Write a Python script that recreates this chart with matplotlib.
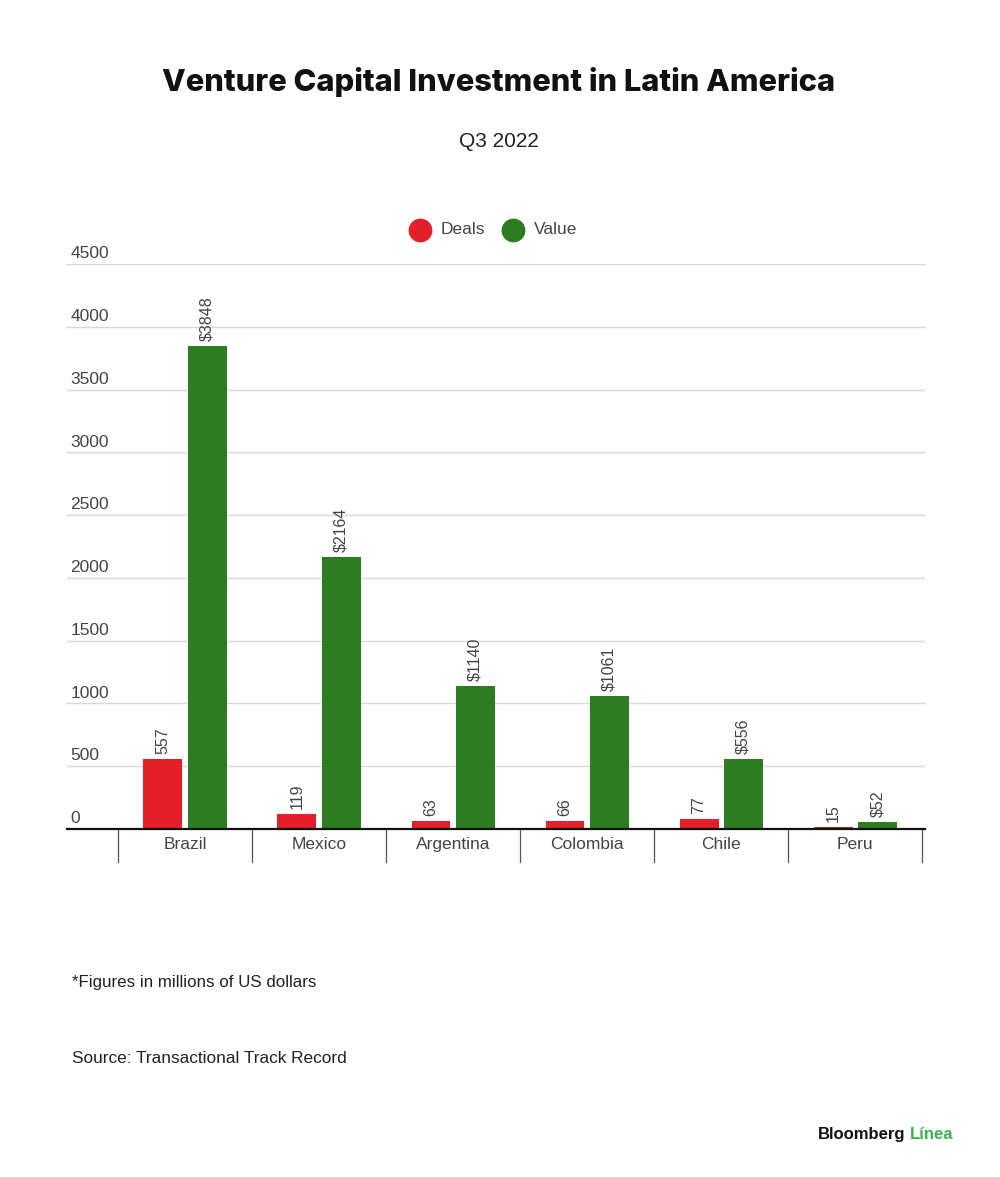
import numpy as np
import matplotlib.pyplot as plt

# data
countries = ['Brazil', 'Mexico', 'Argentina', 'Colombia', 'Chile', 'Peru']
deals = [557, 119, 63, 66, 77, 15]
values = [3848, 2164, 1140, 1061, 556, 52]
yticks = [0, 500, 1000, 1500, 2000, 2500, 3000, 3500, 4000, 4500]

red = '#e3202a'
green = '#2e7b22'
grey = '#444444'

plt.rcParams['font.family'] = ['Liberation Sans', 'DejaVu Sans']

fig = plt.figure(figsize=(10, 11.77), dpi=100)
ax = fig.add_axes([0.067, 0.2957, 0.858, 0.48])

x = np.arange(len(countries))
w = 0.29
off = 0.165
ax.bar(x - off, deals, w, color=red, zorder=3)
ax.bar(x + off, values, w, color=green, zorder=3)

for xi, d, v in zip(x, deals, values):
    ax.text(xi - off, d + 40, str(d), rotation=90, ha='center', va='bottom',
            fontsize=11.5, color=grey)
    ax.text(xi + off, v + 40, '$' + str(v), rotation=90, ha='center', va='bottom',
            fontsize=11.5, color=grey)

ax.set_xlim(-0.88, 5.52)
ax.set_ylim(0, 4500)
ax.set_yticks(yticks)
ax.yaxis.grid(True, color='#d9d9d9', linewidth=1, zorder=0)
ax.tick_params(left=False, bottom=False, labelleft=False, labelbottom=False)
for s in ['top', 'right', 'left']:
    ax.spines[s].set_visible(False)
ax.spines['bottom'].set_linewidth(1.6)
ax.spines['bottom'].set_color('#111111')
ax.spines['bottom'].set_zorder(4)

# y labels sit above the gridlines
for t in yticks:
    ax.text(0.004, t + 22, str(t), transform=ax.get_yaxis_transform(),
            ha='left', va='bottom', fontsize=12.5, color=grey)

# category separators and labels below the axis
for b in np.arange(len(countries) + 1) - 0.5:
    ax.plot([b, b], [0, -260], color='#555555', linewidth=0.9, clip_on=False)
for xi, c in zip(x, countries):
    ax.text(xi, -125, c, ha='center', va='center', fontsize=12.5, color=grey)

# legend
ax.scatter([], [], s=260, color=red, label='Deals')
ax.scatter([], [], s=260, color=green, label='Value')
fig.legend(loc='center', bbox_to_anchor=(0.49, 0.805), ncol=2, frameon=False,
           fontsize=12.5, handletextpad=0.2, columnspacing=0.6, labelcolor=grey)

fig.text(0.499, 0.93, 'Venture Capital Investment in Latin America', ha='center', va='center',
         fontsize=22.2, fontweight='heavy', family=['Inter', 'DejaVu Sans'], color='#111111')
fig.text(0.499, 0.88, 'Q3 2022', ha='center', va='center', fontsize=15, color='#222222')

fig.text(0.072, 0.165, '*Figures in millions of US dollars', ha='left', va='center',
         fontsize=12.2, color='#222222')
fig.text(0.072, 0.101, 'Source: Transactional Track Record', ha='left', va='center',
         fontsize=12.4, color='#222222')
fig.text(0.905, 0.036, 'Bloomberg', ha='right', va='center', fontsize=12,
         fontweight='bold', color='#111111')
fig.text(0.910, 0.036, 'Línea', ha='left', va='center', fontsize=12,
         fontweight='bold', color='#3fb14a')

fig.savefig('out.png', dpi=100)
plt.close()
